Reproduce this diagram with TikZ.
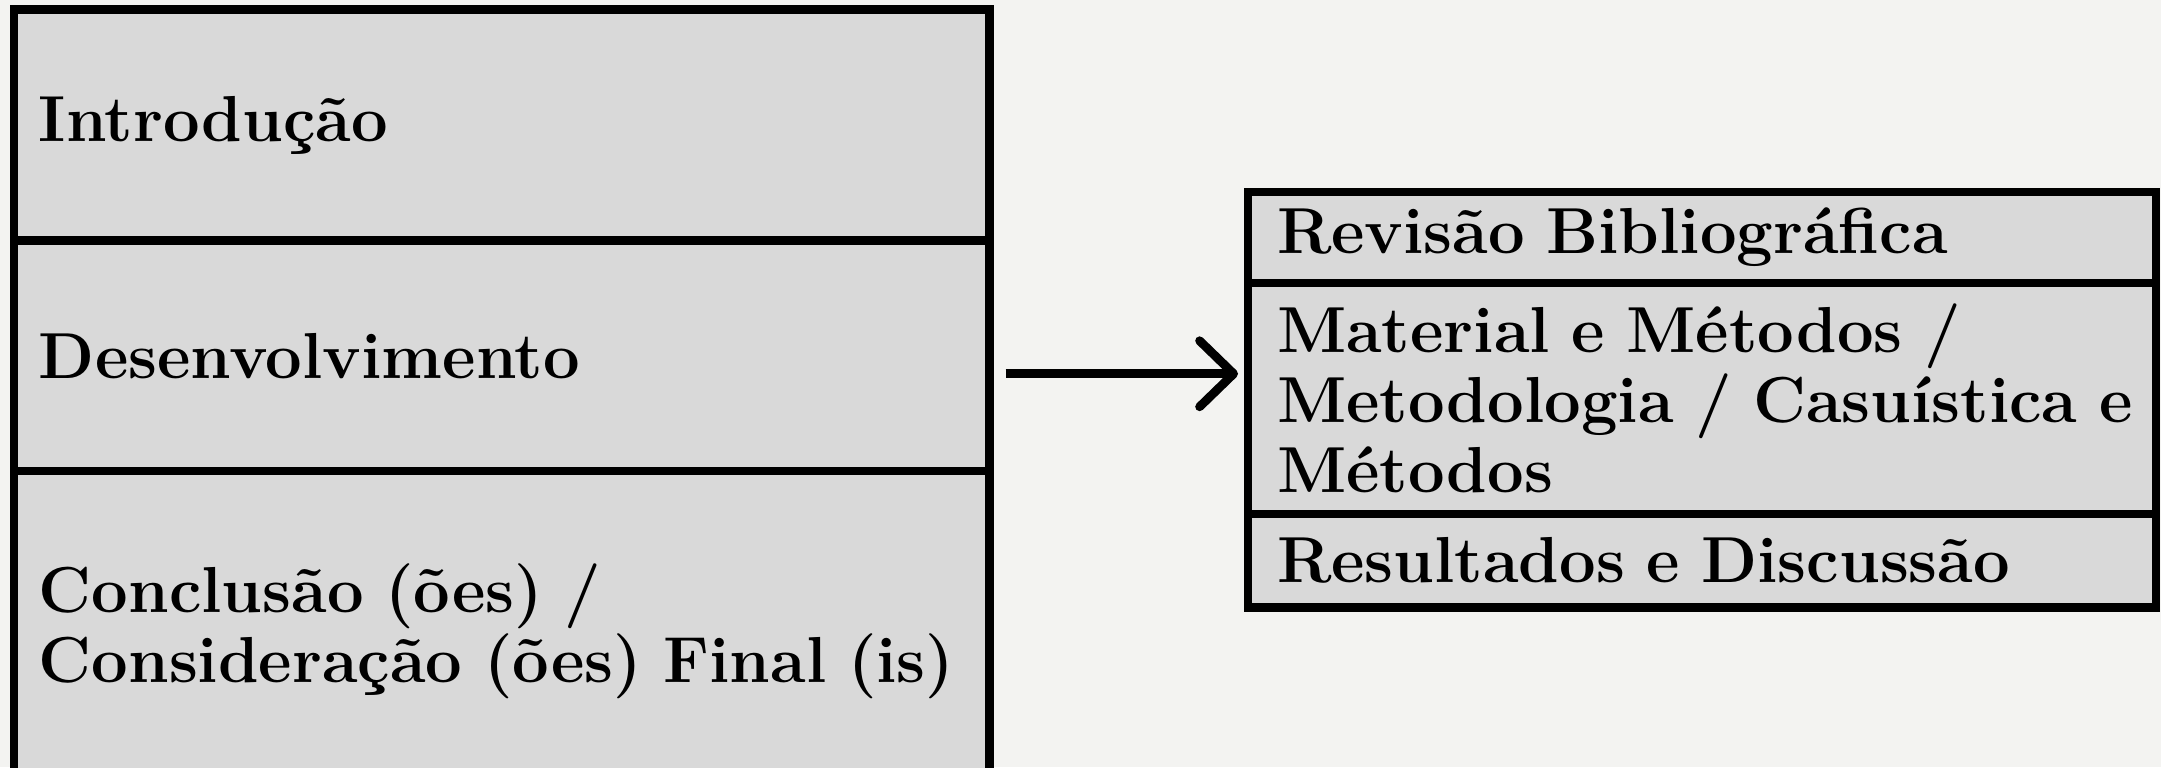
\documentclass[tikz,border=0pt]{standalone}
\usepackage{fontspec}
\usepackage{tikz}
\usetikzlibrary{positioning, arrows.meta}
\definecolor{paper}{HTML}{F3F3F1}
\definecolor{cellgray}{HTML}{D9D9D9}
\tikzstyle{leftcell} = [rectangle, anchor=north west, minimum width=9.755cm, minimum height=2.31cm, inner xsep=0.25cm, outer sep=0pt, text width=9.255cm, align=left, draw=black, line width=2.5pt, fill=cellgray, font=\fontsize{18.5}{20}\selectfont\bfseries]
\tikzstyle{rightcell} = [rectangle, anchor=north west, minimum width=9.08cm, minimum height=0.91cm, inner xsep=0.29cm, outer sep=0pt, text width=8.5cm, align=left, draw=black, line width=2.5pt, fill=cellgray, font=\fontsize{18.5}{20}\selectfont\bfseries]
\tikzstyle{arrow} = [line width=2.5pt, -{Straight Barb[length=3.4mm, width=6.6mm, round]}]

\begin{document}
\begin{tikzpicture}
    \fill[paper] (0,0) rectangle (21.61,-7.67);
    \clip (0,0) rectangle (21.61,-7.67);

    % left column
    \node (intro) [leftcell] at (0.14,-0.095) {Introdução};
    \node (desenv) [leftcell, below=0pt of intro.south west, anchor=north west, minimum height=2.305cm] {Desenvolvimento};
    \node (concl) [leftcell, below=0pt of desenv.south west, anchor=north west, minimum height=3.2cm] {Conclusão (ões) /\\Consideração (ões) Final (is)};

    % right column
    \node (revisao) [rightcell] at (12.48,-1.92) {Revisão Bibliográfica};
    \node (material) [rightcell, below=0pt of revisao.south west, anchor=north west, minimum height=2.31cm] {Material e Métodos /\\\mbox{Metodologia /\ Casuística e}\\Métodos};
    \node (result) [rightcell, below=0pt of material.south west, anchor=north west, minimum height=0.935cm] {Resultados e Discussão};

    \draw[arrow, shorten <=0.16cm, shorten >=0.1cm] ([yshift=-0.18cm]desenv.east) -- ([yshift=-0.18cm]desenv.east -| material.west);
\end{tikzpicture}
\end{document}
